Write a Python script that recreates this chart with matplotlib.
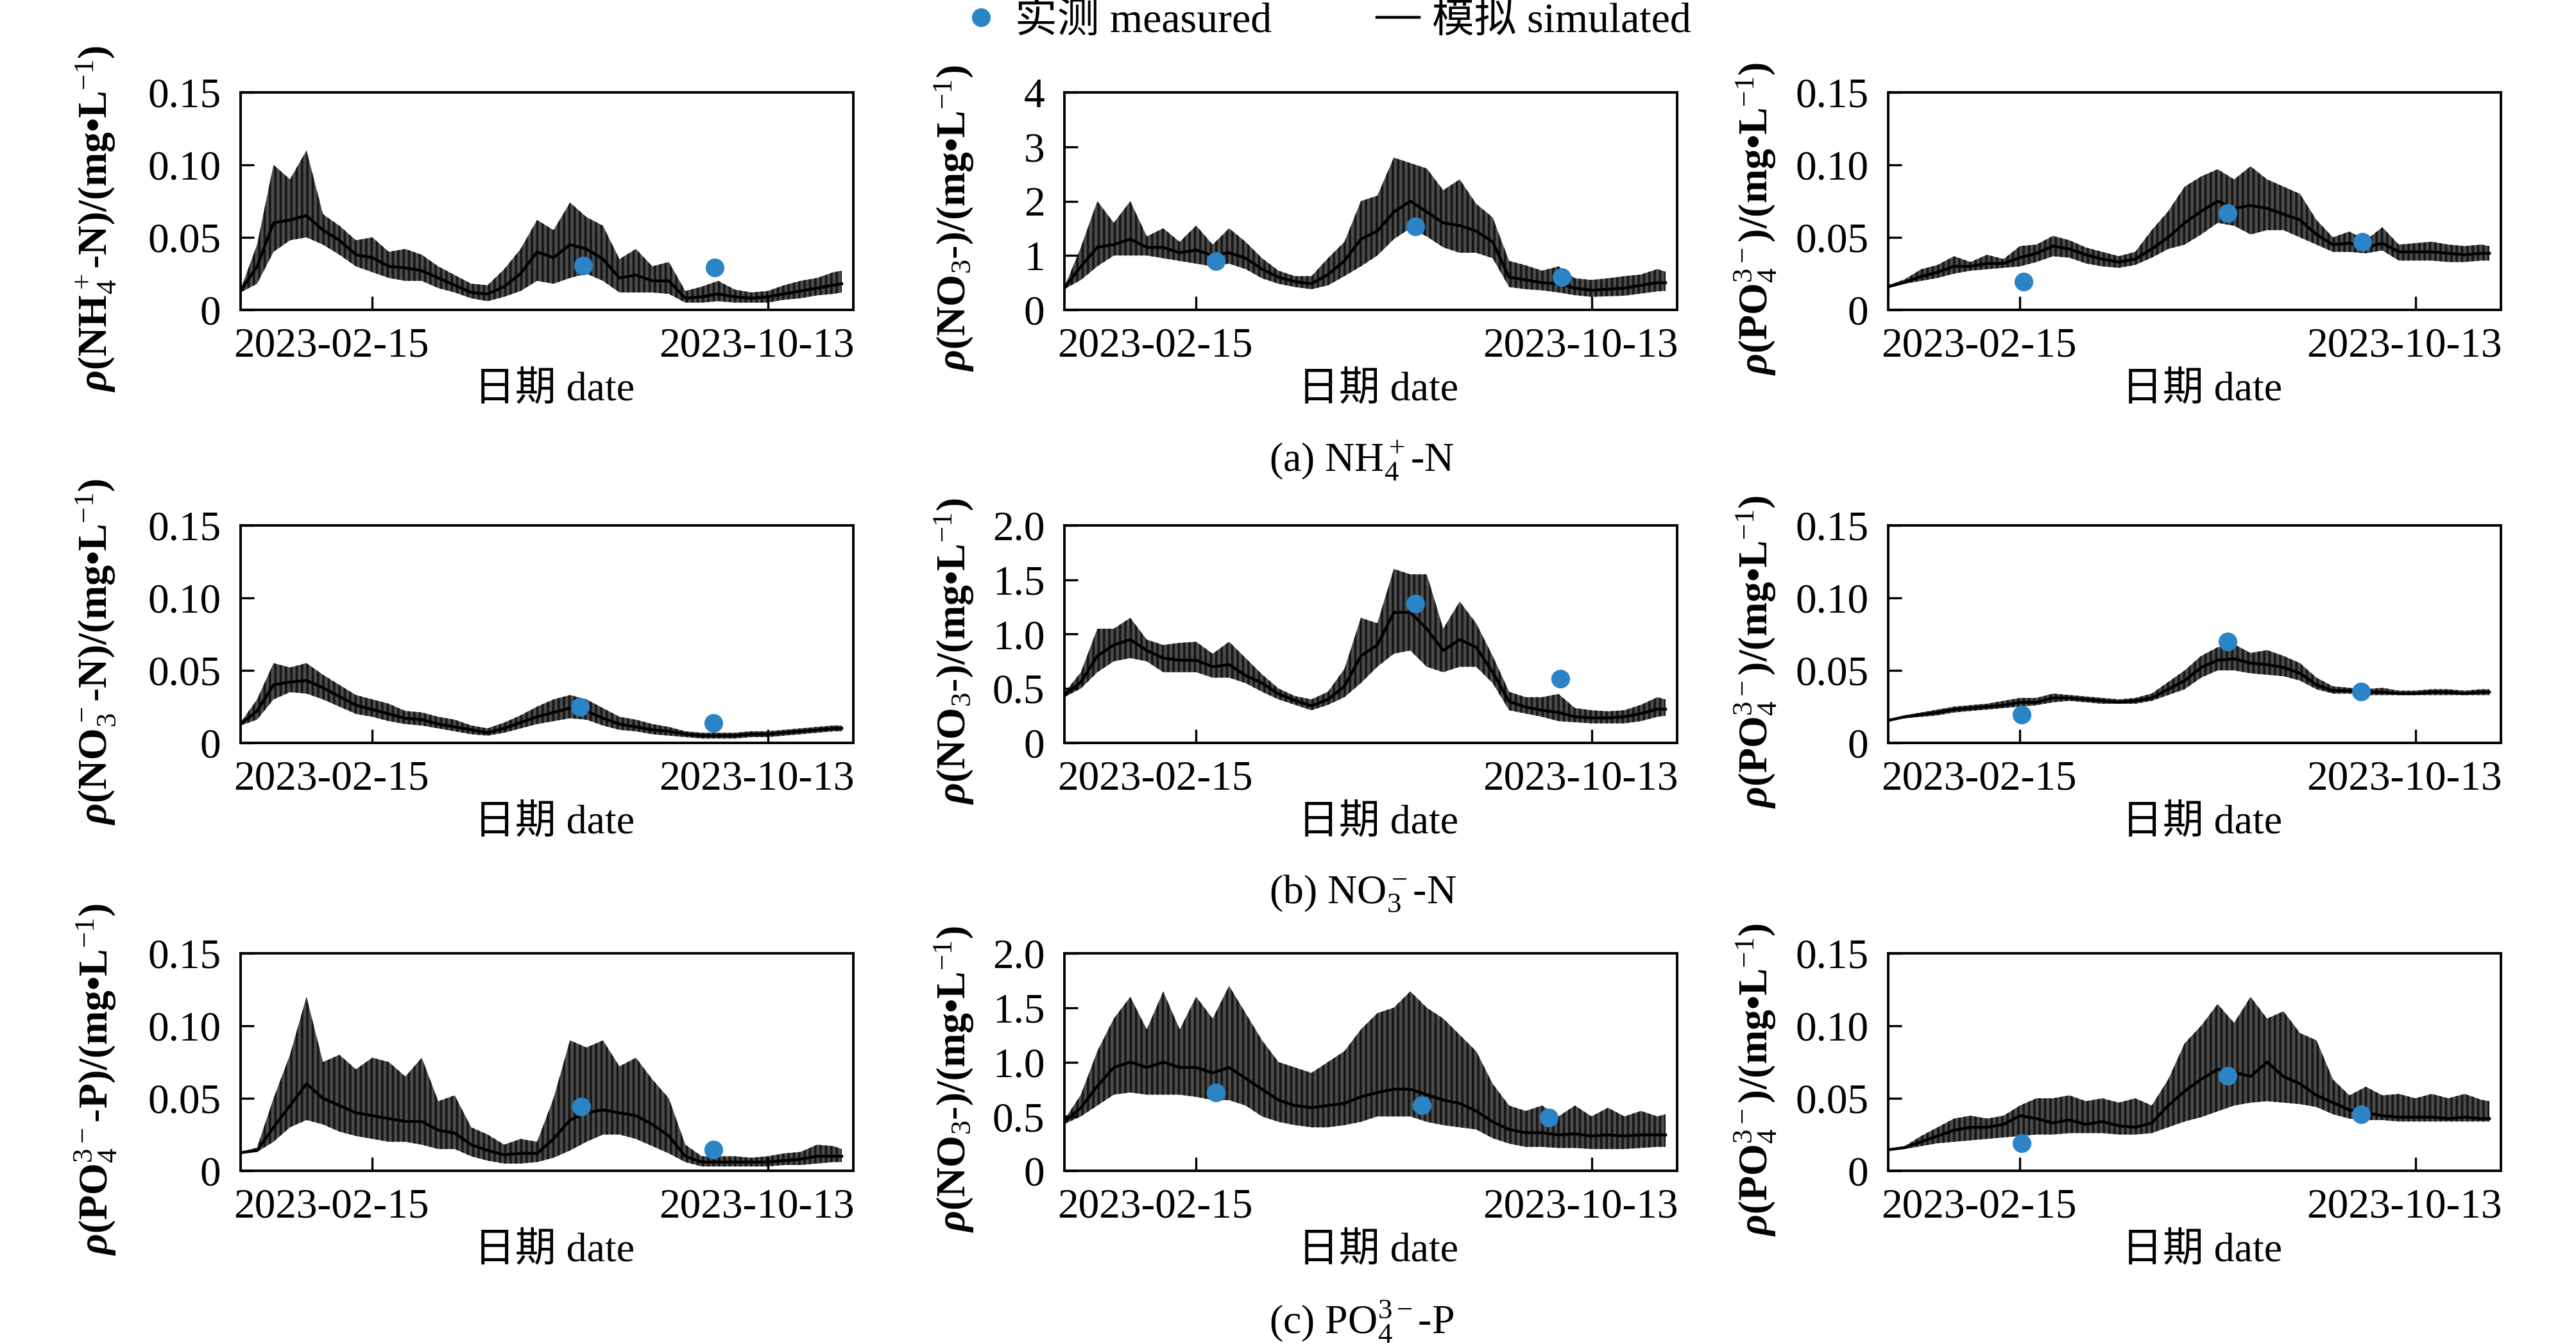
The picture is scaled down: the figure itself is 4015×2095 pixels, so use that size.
import numpy as np
import matplotlib.pyplot as plt
from matplotlib.lines import Line2D

plt.rcParams['font.family'] = ['Liberation Serif', 'Noto Sans CJK SC']
plt.rcParams['mathtext.fontset'] = 'custom'
plt.rcParams['mathtext.rm'] = 'Liberation Serif'
plt.rcParams['mathtext.it'] = 'Liberation Serif:italic:bold'
plt.rcParams['mathtext.bf'] = 'Liberation Serif:bold'
plt.rcParams['hatch.linewidth'] = 1.3

# simulation days counted from 2022-11-27
start = np.datetime64('2022-11-27')
days = [0, 10, 20, 30, 40, 50, 60, 70, 80, 90, 100, 110, 120, 130, 140, 150, 160, 170, 180,
        190, 200, 210, 220, 230, 240, 250, 260, 270, 280, 290, 300, 310, 320, 330, 340, 350, 360, 365]

# (a) row, NH4+-N
a1_low = [0.012, 0.018, 0.04, 0.048, 0.05, 0.045, 0.038, 0.03, 0.026, 0.022, 0.02, 0.02, 0.015, 0.012, 0.008, 0.006, 0.009, 0.013, 0.02,
          0.018, 0.022, 0.025, 0.02, 0.012, 0.012, 0.012, 0.011, 0.005, 0.005, 0.006, 0.005, 0.005, 0.005, 0.007, 0.008, 0.01, 0.011, 0.012]
a1_high = [0.014, 0.045, 0.10, 0.09, 0.11, 0.066, 0.058, 0.048, 0.05, 0.04, 0.042, 0.038, 0.03, 0.024, 0.018, 0.017, 0.028, 0.042, 0.062,
           0.055, 0.074, 0.064, 0.058, 0.035, 0.042, 0.03, 0.033, 0.013, 0.016, 0.02, 0.014, 0.012, 0.013, 0.017, 0.02, 0.022, 0.026, 0.027]
a1_mid = [0.013, 0.03, 0.06, 0.062, 0.065, 0.055, 0.048, 0.038, 0.036, 0.03, 0.029, 0.027, 0.022, 0.017, 0.012, 0.011, 0.016, 0.025, 0.04,
          0.036, 0.045, 0.042, 0.035, 0.022, 0.024, 0.02, 0.02, 0.008, 0.009, 0.011, 0.009, 0.008, 0.009, 0.011, 0.013, 0.015, 0.017, 0.018]
a1_obs_day = [208, 288]
a1_obs = [0.0305, 0.0294]

a2_low = [0.38, 0.55, 0.8, 1.0, 1.0, 1.0, 0.95, 0.9, 0.85, 0.8, 0.85, 0.75, 0.58, 0.48, 0.42, 0.38, 0.45, 0.62, 0.8,
          1.0, 1.3, 1.5, 1.35, 1.15, 1.05, 1.05, 0.95, 0.42, 0.38, 0.36, 0.32, 0.27, 0.24, 0.25, 0.26, 0.3, 0.34, 0.35]
a2_high = [0.42, 1.15, 2.0, 1.6, 2.0, 1.35, 1.5, 1.25, 1.55, 1.2, 1.5, 1.25, 0.95, 0.72, 0.62, 0.62, 0.95, 1.25, 2.0,
           2.1, 2.8, 2.7, 2.6, 2.2, 2.4, 1.95, 1.7, 0.9, 0.82, 0.72, 0.8, 0.58, 0.55, 0.58, 0.62, 0.65, 0.75, 0.7]
a2_mid = [0.4, 0.8, 1.15, 1.2, 1.3, 1.15, 1.15, 1.05, 1.1, 1.0, 1.05, 0.95, 0.75, 0.6, 0.52, 0.48, 0.65, 0.9, 1.3,
          1.45, 1.8, 2.0, 1.8, 1.6, 1.55, 1.45, 1.25, 0.6, 0.55, 0.5, 0.48, 0.4, 0.36, 0.38, 0.4, 0.45, 0.5, 0.5]
a2_obs_day = [92, 213, 302]
a2_obs = [0.9, 1.53, 0.6]

a3_low = [0.015, 0.018, 0.02, 0.022, 0.025, 0.027, 0.028, 0.029, 0.03, 0.033, 0.037, 0.036, 0.032, 0.03, 0.029, 0.031, 0.036, 0.042, 0.045,
          0.052, 0.06, 0.058, 0.052, 0.055, 0.055, 0.05, 0.045, 0.04, 0.04, 0.039, 0.041, 0.034, 0.034, 0.034, 0.033, 0.033, 0.034, 0.034]
a3_high = [0.017, 0.021, 0.028, 0.031, 0.037, 0.033, 0.038, 0.035, 0.044, 0.045, 0.051, 0.048, 0.043, 0.04, 0.037, 0.04, 0.055, 0.068, 0.085,
           0.092, 0.097, 0.09, 0.099, 0.09, 0.085, 0.08, 0.062, 0.05, 0.054, 0.048, 0.057, 0.045, 0.046, 0.047, 0.045, 0.044, 0.045, 0.044]
a3_mid = [0.016, 0.019, 0.023, 0.026, 0.03, 0.03, 0.032, 0.032, 0.036, 0.039, 0.044, 0.042, 0.038, 0.035, 0.033, 0.035, 0.042, 0.05, 0.06,
          0.068, 0.075, 0.07, 0.072, 0.07, 0.066, 0.062, 0.052, 0.045, 0.046, 0.043, 0.046, 0.04, 0.04, 0.04, 0.039, 0.038, 0.039, 0.039]
a3_obs_day = [82, 206, 288]
a3_obs = [0.0195, 0.0666, 0.0468]

# (b) row, NO3--N
b1_low = [0.012, 0.016, 0.03, 0.035, 0.034, 0.03, 0.025, 0.02, 0.018, 0.015, 0.013, 0.012, 0.01, 0.008, 0.006, 0.005, 0.007, 0.01, 0.013,
          0.015, 0.017, 0.016, 0.012, 0.009, 0.008, 0.006, 0.005, 0.004, 0.003, 0.003, 0.003, 0.004, 0.004, 0.005, 0.006, 0.007, 0.008, 0.008]
b1_high = [0.014, 0.03, 0.055, 0.052, 0.055, 0.047, 0.04, 0.033, 0.03, 0.027, 0.022, 0.021, 0.018, 0.016, 0.012, 0.01, 0.014, 0.019, 0.025,
           0.03, 0.033, 0.03, 0.024, 0.018, 0.016, 0.013, 0.011, 0.008, 0.007, 0.007, 0.007, 0.008, 0.008, 0.009, 0.01, 0.011, 0.012, 0.012]
b1_mid = [0.013, 0.022, 0.04, 0.042, 0.043, 0.038, 0.032, 0.026, 0.023, 0.02, 0.017, 0.016, 0.013, 0.011, 0.009, 0.007, 0.01, 0.014, 0.018,
          0.021, 0.024, 0.022, 0.017, 0.013, 0.011, 0.009, 0.008, 0.006, 0.005, 0.005, 0.005, 0.006, 0.006, 0.007, 0.008, 0.009, 0.01, 0.01]
b1_obs_day = [206, 287]
b1_obs = [0.025, 0.0139]

b2_low = [0.42, 0.5, 0.65, 0.75, 0.78, 0.75, 0.65, 0.65, 0.65, 0.6, 0.6, 0.55, 0.47, 0.4, 0.35, 0.3, 0.35, 0.42, 0.55,
          0.7, 0.82, 0.85, 0.7, 0.65, 0.7, 0.7, 0.55, 0.3, 0.27, 0.24, 0.2, 0.19, 0.18, 0.18, 0.18, 0.2, 0.24, 0.25]
b2_high = [0.46, 0.65, 1.05, 1.05, 1.15, 0.95, 0.9, 0.92, 0.93, 0.82, 0.93, 0.78, 0.63, 0.5, 0.43, 0.4, 0.47, 0.68, 1.15,
           1.1, 1.6, 1.55, 1.55, 1.05, 1.3, 1.1, 0.8, 0.47, 0.42, 0.42, 0.45, 0.32, 0.3, 0.29, 0.3, 0.35, 0.42, 0.4]
b2_mid = [0.44, 0.56, 0.8, 0.9, 0.95, 0.85, 0.78, 0.76, 0.76, 0.7, 0.72, 0.62, 0.55, 0.45, 0.39, 0.34, 0.4, 0.52, 0.8,
          0.9, 1.2, 1.2, 1.05, 0.85, 0.95, 0.88, 0.65, 0.38, 0.33, 0.3, 0.28, 0.24, 0.23, 0.23, 0.24, 0.27, 0.31, 0.31]
b2_obs_day = [213, 301]
b2_obs = [1.28, 0.59]

b3_low = [0.015, 0.017, 0.018, 0.019, 0.021, 0.022, 0.023, 0.024, 0.025, 0.026, 0.028, 0.029, 0.028, 0.027, 0.027, 0.027, 0.029, 0.033, 0.037,
          0.045, 0.05, 0.05, 0.048, 0.047, 0.046, 0.043, 0.037, 0.034, 0.034, 0.033, 0.033, 0.033, 0.033, 0.033, 0.033, 0.033, 0.033, 0.033]
b3_high = [0.016, 0.019, 0.021, 0.023, 0.025, 0.026, 0.027, 0.029, 0.031, 0.031, 0.034, 0.033, 0.032, 0.031, 0.03, 0.031, 0.034, 0.042, 0.05,
           0.06, 0.066, 0.068, 0.062, 0.064, 0.06, 0.055, 0.045, 0.039, 0.038, 0.037, 0.038, 0.036, 0.036, 0.037, 0.037, 0.036, 0.037, 0.037]
b3_mid = [0.0155, 0.018, 0.0195, 0.021, 0.023, 0.024, 0.025, 0.026, 0.028, 0.028, 0.031, 0.031, 0.03, 0.029, 0.028, 0.029, 0.031, 0.037, 0.043,
          0.052, 0.057, 0.058, 0.055, 0.054, 0.052, 0.048, 0.04, 0.036, 0.036, 0.035, 0.035, 0.034, 0.034, 0.035, 0.035, 0.034, 0.035, 0.035]
b3_obs_day = [81, 206, 287]
b3_obs = [0.0195, 0.07, 0.0355]

# (c) row, PO43--P
c1_low = [0.012, 0.013, 0.02, 0.03, 0.035, 0.032, 0.027, 0.024, 0.022, 0.02, 0.02, 0.018, 0.015, 0.015, 0.01, 0.007, 0.005, 0.005, 0.006,
          0.009, 0.014, 0.02, 0.025, 0.025, 0.022, 0.017, 0.012, 0.006, 0.003, 0.003, 0.003, 0.003, 0.003, 0.004, 0.004, 0.005, 0.006, 0.006]
c1_high = [0.013, 0.016, 0.05, 0.08, 0.12, 0.075, 0.08, 0.07, 0.078, 0.075, 0.065, 0.078, 0.048, 0.052, 0.03, 0.025, 0.018, 0.022, 0.02,
           0.05, 0.09, 0.085, 0.09, 0.072, 0.078, 0.063, 0.05, 0.018, 0.01, 0.01, 0.01, 0.009, 0.01, 0.012, 0.013, 0.018, 0.017, 0.015]
c1_mid = [0.0125, 0.014, 0.03, 0.045, 0.06, 0.05, 0.045, 0.04, 0.038, 0.036, 0.034, 0.034, 0.028, 0.026, 0.018, 0.014, 0.011, 0.012, 0.012,
          0.022, 0.035, 0.04, 0.042, 0.04, 0.038, 0.032, 0.024, 0.01, 0.006, 0.006, 0.006, 0.006, 0.006, 0.007, 0.008, 0.01, 0.01, 0.01]
c1_obs_day = [207, 287]
c1_obs = [0.0442, 0.0147]

c2_low = [0.43, 0.5, 0.6, 0.7, 0.72, 0.7, 0.7, 0.7, 0.68, 0.65, 0.65, 0.6, 0.5, 0.45, 0.42, 0.4, 0.4, 0.42, 0.45,
          0.5, 0.5, 0.5, 0.45, 0.42, 0.4, 0.38, 0.3, 0.25, 0.22, 0.22, 0.21, 0.21, 0.2, 0.2, 0.2, 0.21, 0.22, 0.22]
c2_high = [0.47, 0.7, 1.1, 1.4, 1.6, 1.3, 1.65, 1.3, 1.6, 1.4, 1.7, 1.45, 1.2, 1.0, 0.95, 0.9, 1.0, 1.1, 1.3,
           1.45, 1.5, 1.65, 1.5, 1.4, 1.25, 1.1, 0.8, 0.6, 0.55, 0.6, 0.5, 0.6, 0.5, 0.58, 0.5, 0.55, 0.5, 0.52]
c2_mid = [0.45, 0.58, 0.78, 0.95, 1.0, 0.95, 1.0, 0.95, 0.95, 0.9, 0.95, 0.85, 0.75, 0.65, 0.6, 0.58, 0.6, 0.62, 0.68,
          0.72, 0.75, 0.75, 0.7, 0.65, 0.62, 0.55, 0.45, 0.38, 0.35, 0.35, 0.33, 0.34, 0.32, 0.33, 0.32, 0.33, 0.33, 0.33]
c2_obs_day = [92, 217, 294]
c2_obs = [0.72, 0.6, 0.49]

c3_low = [0.014, 0.015, 0.017, 0.019, 0.02, 0.021, 0.022, 0.023, 0.024, 0.025, 0.025, 0.026, 0.026, 0.026, 0.025, 0.025, 0.026, 0.03, 0.034,
          0.037, 0.041, 0.045, 0.047, 0.048, 0.047, 0.046, 0.044, 0.039, 0.036, 0.035, 0.035, 0.034, 0.034, 0.034, 0.034, 0.034, 0.034, 0.034]
c3_high = [0.015, 0.017, 0.024, 0.03, 0.036, 0.038, 0.036, 0.038, 0.045, 0.05, 0.05, 0.052, 0.048, 0.05, 0.047, 0.05, 0.045, 0.063, 0.088,
           0.1, 0.115, 0.102, 0.12, 0.105, 0.11, 0.095, 0.09, 0.063, 0.052, 0.058, 0.052, 0.053, 0.05, 0.053, 0.05, 0.053, 0.049, 0.048]
c3_mid = [0.0145, 0.016, 0.02, 0.024, 0.028, 0.03, 0.03, 0.032, 0.038, 0.036, 0.033, 0.035, 0.032, 0.034, 0.031, 0.03, 0.033, 0.045, 0.055,
          0.063, 0.07, 0.068, 0.065, 0.075, 0.065, 0.06, 0.052, 0.047, 0.042, 0.04, 0.038, 0.037, 0.037, 0.037, 0.036, 0.037, 0.036, 0.036]
c3_obs_day = [81, 206, 287]
c3_obs = [0.019, 0.0657, 0.039]

lab_nh4 = r'$\rho$(NH$_4^+$-N)/(mg•L$^{-1}$)'
lab_no3n = r'$\rho$(NO$_3^-$-N)/(mg•L$^{-1}$)'
lab_po4p = r'$\rho$(PO$_4^{3-}$-P)/(mg•L$^{-1}$)'
lab_no3 = r'$\rho$(NO$_3$-)/(mg•L$^{-1}$)'
lab_po4 = r'$\rho$(PO$_4^{3-}$)/(mg•L$^{-1}$)'

yt_small = [0, 0.05, 0.10, 0.15]
ytl_small = ['0', '0.05', '0.10', '0.15']
yt_four = [0, 1, 2, 3, 4]
ytl_four = ['0', '1', '2', '3', '4']
yt_two = [0, 0.5, 1.0, 1.5, 2.0]
ytl_two = ['0', '0.5', '1.0', '1.5', '2.0']

captions = [r'(a) NH$_4^+$-N', r'(b) NO$_3^-$-N', r'(c) PO$_4^{3-}$-P']
tick_dates = [np.datetime64('2023-02-15'), np.datetime64('2023-10-13')]
tick_names = ['2023-02-15', '2023-10-13']

panels = [
    [(a1_low, a1_high, a1_mid, a1_obs_day, a1_obs, lab_nh4, yt_small, ytl_small),
     (a2_low, a2_high, a2_mid, a2_obs_day, a2_obs, lab_no3, yt_four, ytl_four),
     (a3_low, a3_high, a3_mid, a3_obs_day, a3_obs, lab_po4, yt_small, ytl_small)],
    [(b1_low, b1_high, b1_mid, b1_obs_day, b1_obs, lab_no3n, yt_small, ytl_small),
     (b2_low, b2_high, b2_mid, b2_obs_day, b2_obs, lab_no3, yt_two, ytl_two),
     (b3_low, b3_high, b3_mid, b3_obs_day, b3_obs, lab_po4, yt_small, ytl_small)],
    [(c1_low, c1_high, c1_mid, c1_obs_day, c1_obs, lab_po4p, yt_small, ytl_small),
     (c2_low, c2_high, c2_mid, c2_obs_day, c2_obs, lab_no3, yt_two, ytl_two),
     (c3_low, c3_high, c3_mid, c3_obs_day, c3_obs, lab_po4, yt_small, ytl_small)],
]

blue = '#2A84C6'
W, H = 4016, 2095
col_left = [375, 1659, 2943]
row_bottom = [483, 1158, 1825]
ax_w, ax_h = 955, 339
ylab_x = [-0.236, -0.180, -0.216]

fig = plt.figure(figsize=(W / 200, H / 200), dpi=200)
dates = start + np.array(days).astype('timedelta64[D]')

for r in range(3):
    for c in range(3):
        low, high, mid, obs_day, obs, ylab, yt, ytl = panels[r][c]
        ax = fig.add_axes([col_left[c] / W, 1 - row_bottom[r] / H, ax_w / W, ax_h / H])
        ax.fill_between(dates, low, high, facecolor='#4b4b4b', edgecolor='#151515',
                        hatch='||||', linewidth=0, zorder=1)
        ax.plot(dates, mid, color='black', lw=1.6, zorder=2)
        obs_dates = start + np.array(obs_day).astype('timedelta64[D]')
        ax.plot(obs_dates, obs, 'o', color=blue, ms=10.5, mec='none', zorder=3)

        ax.set_xlim(start, start + np.timedelta64(372, 'D'))
        ax.set_ylim(yt[0], yt[-1])
        ax.set_yticks(yt)
        ax.set_yticklabels(ytl)
        ax.set_xticks(tick_dates)
        ax.set_xticklabels([])
        ax.tick_params(direction='in', length=7.5, width=1.2, labelsize=23.5, pad=11)
        for s in ax.spines.values():
            s.set_linewidth(1.4)

        ax.text(-0.0115, -0.08, tick_names[0], transform=ax.transAxes, ha='left', va='top', fontsize=23.5)
        ax.text(1.002, -0.08, tick_names[1], transform=ax.transAxes, ha='right', va='top', fontsize=23.5)
        ax.text(0.5125, -0.286, '日期 date', transform=ax.transAxes, ha='center', va='top',
                fontsize=23, fontweight='medium')
        ax.text(ylab_x[c], 0.42, ylab, transform=ax.transAxes, rotation=90, ha='center', va='center',
                fontsize=23, fontweight='bold')

cap_y = [718, 1393, 2060]
for r in range(3):
    fig.text(1978 / W, 1 - cap_y[r] / H, captions[r], ha='left', va='center', fontsize=23)

handles = [Line2D([], [], ls='none', marker='o', color=blue, ms=10.5, mec='none'),
           Line2D([], [], color='black', lw=1.6)]
fig.legend(handles, ['实测 measured', '模拟 simulated'], loc='center', bbox_to_anchor=(0.5144, 0.9838),
           ncol=2, frameon=False, handlelength=1.0, handletextpad=0.3, columnspacing=2.5,
           prop={'size': 23.7, 'weight': 'medium'})

fig.savefig('out.png', dpi=200)
